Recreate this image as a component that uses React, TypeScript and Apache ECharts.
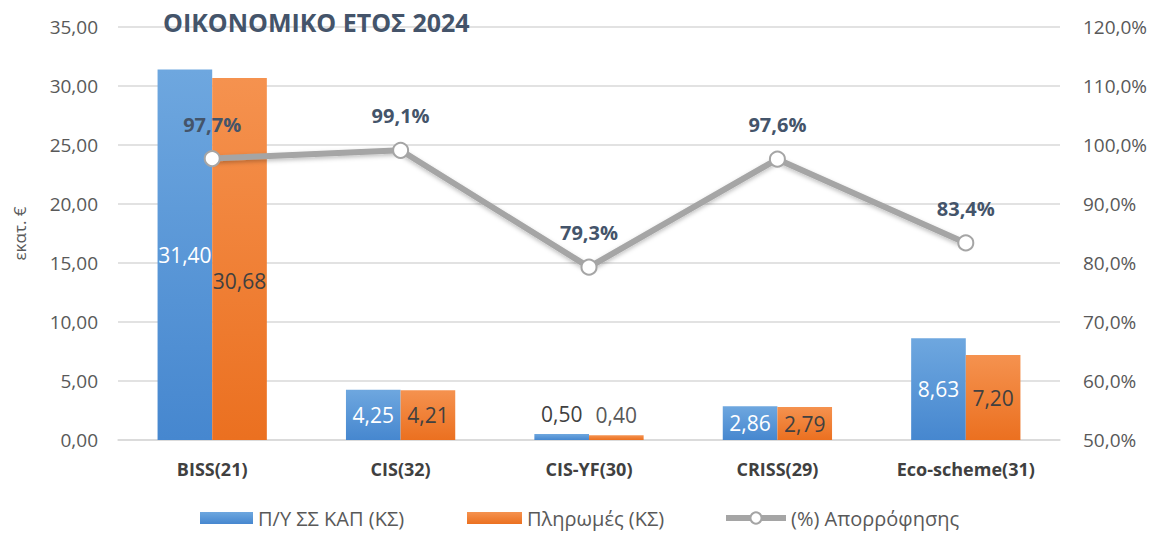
import React, { useEffect, useRef } from "react";
import * as echarts from "echarts";

const categories = ["BISS(21)", "CIS(32)", "CIS-YF(30)", "CRISS(29)", "Eco-scheme(31)"];
const budget = [31.4, 4.25, 0.5, 2.86, 8.63];
const payments = [30.68, 4.21, 0.4, 2.79, 7.2];
const absorption = [97.7, 99.1, 79.3, 97.6, 83.4];
const seriesNames = ["Π/Υ ΣΣ ΚΑΠ (ΚΣ)", "Πληρωμές (ΚΣ)", "(%) Απορρόφησης"];
const titleText = "ΟΙΚΟΝΟΜΙΚΟ ΕΤΟΣ 2024";
const yAxisName = "εκατ. €";

const FONT = "'Open Sans', 'Noto Sans', sans-serif";
const fmt2 = (v: number) => v.toFixed(2).replace(".", ",");
const fmt1 = (v: number) => v.toFixed(1).replace(".", ",");

export default function App() {
  const ref = useRef<HTMLDivElement>(null);
  useEffect(() => {
    if (!ref.current) return;
    const chart = echarts.init(ref.current, null, { renderer: "svg" });
    const blue = new echarts.graphic.LinearGradient(0, 0, 0, 1, [
      { offset: 0, color: "#6ea7df" },
      { offset: 1, color: "#4687cf" },
    ]);
    const orange = new echarts.graphic.LinearGradient(0, 0, 0, 1, [
      { offset: 0, color: "#f5924f" },
      { offset: 1, color: "#eb7020" },
    ]);
    const smallThreshold = 1;
    const legendText = { fontFamily: FONT, fontSize: 20, color: "#595959" };
    chart.setOption({
      animation: false,
      title: {
        text: titleText,
        left: 163,
        top: 9,
        padding: 0,
        textStyle: { fontFamily: FONT, fontSize: 25, fontWeight: "bold", color: "#44546a" },
      },
      legend: [
        {
          left: 200,
          top: 508,
          padding: 0,
          itemWidth: 53,
          itemHeight: 12,
          textStyle: legendText,
          data: [{ name: seriesNames[0], icon: "rect" }],
        },
        {
          left: 467,
          top: 508,
          padding: 0,
          itemWidth: 55,
          itemHeight: 12,
          textStyle: legendText,
          data: [{ name: seriesNames[1], icon: "rect" }],
        },
        {
          left: 723,
          top: 508,
          padding: 0,
          itemWidth: 60,
          itemHeight: 14,
          textStyle: legendText,
          lineStyle: { width: 6, color: "#a5a5a5" },
          itemStyle: { color: "#ffffff", borderColor: "#a5a5a5", borderWidth: 2 },
          data: [{ name: seriesNames[2] }],
        },
      ],
      grid: { left: 118, right: 100, top: 27, bottom: 94 },
      xAxis: {
        type: "category",
        data: categories,
        axisLine: { show: true, lineStyle: { color: "#d9d9d9", width: 1.5 } },
        axisTick: { show: false },
        axisLabel: { interval: 0, fontFamily: FONT, fontSize: 18, fontWeight: "bold", color: "#404040", margin: 20 },
      },
      yAxis: [
        {
          type: "value",
          min: 0,
          max: 35,
          interval: 5,
          name: yAxisName,
          nameLocation: "middle",
          nameGap: 90,
          nameRotate: 90,
          nameTextStyle: { fontFamily: FONT, fontSize: 17, color: "#595959" },
          axisLabel: { fontFamily: FONT, fontSize: 19, color: "#595959", formatter: (v: number) => fmt2(v), margin: 20 },
          splitLine: { lineStyle: { color: "#d9d9d9", width: 1.5 } },
          axisLine: { show: false },
          axisTick: { show: false },
        },
        {
          type: "value",
          min: 50,
          max: 120,
          interval: 10,
          axisLabel: { fontFamily: FONT, fontSize: 19, color: "#595959", formatter: (v: number) => fmt1(v) + "%", margin: 23 },
          splitLine: { show: false },
          axisLine: { show: false },
          axisTick: { show: false },
        },
      ],
      series: [
        {
          name: seriesNames[0],
          type: "bar",
          barGap: "0%",
          barCategoryGap: "42%",
          itemStyle: { color: blue },
          data: budget.map((v) => ({
            value: v,
            label:
              v < smallThreshold
                ? { position: "top", color: "#404040", distance: 10 }
                : undefined,
          })),
          label: {
            show: true,
            position: "inside",
            fontFamily: FONT,
            fontSize: 21,
            color: "#ffffff",
            formatter: (p: any) => fmt2(p.value),
          },
          z: 2,
        },
        {
          name: seriesNames[1],
          type: "bar",
          itemStyle: { color: orange },
          data: payments.map((v, i) => ({
            value: v,
            label:
              v < smallThreshold
                ? { position: "top", color: "#595959", distance: 10 }
                : i === 0
                ? { offset: [0, 22] }
                : undefined,
          })),
          label: {
            show: true,
            position: "inside",
            fontFamily: FONT,
            fontSize: 21,
            color: "#404040",
            formatter: (p: any) => fmt2(p.value),
          },
          z: 2,
        },
        {
          name: seriesNames[2],
          type: "line",
          yAxisIndex: 1,
          data: absorption,
          symbol: "circle",
          symbolSize: 15,
          lineStyle: { color: "#a5a5a5", width: 6, shadowColor: "rgba(0,0,0,0.25)", shadowBlur: 4, shadowOffsetY: 2 },
          itemStyle: { color: "#ffffff", borderColor: "#a5a5a5", borderWidth: 2 },
          label: {
            show: true,
            position: "top",
            distance: 16,
            fontFamily: FONT,
            fontSize: 20,
            fontWeight: "bold",
            color: "#44546a",
            formatter: (p: any) => fmt1(p.value) + "%",
          },
          z: 5,
        },
      ],
    });
    return () => chart.dispose();
  }, []);
  return (
    <div
      ref={ref}
      style={{ position: "absolute", left: 0, top: 0, width: 1160, height: 534 }}
    />
  );
}
